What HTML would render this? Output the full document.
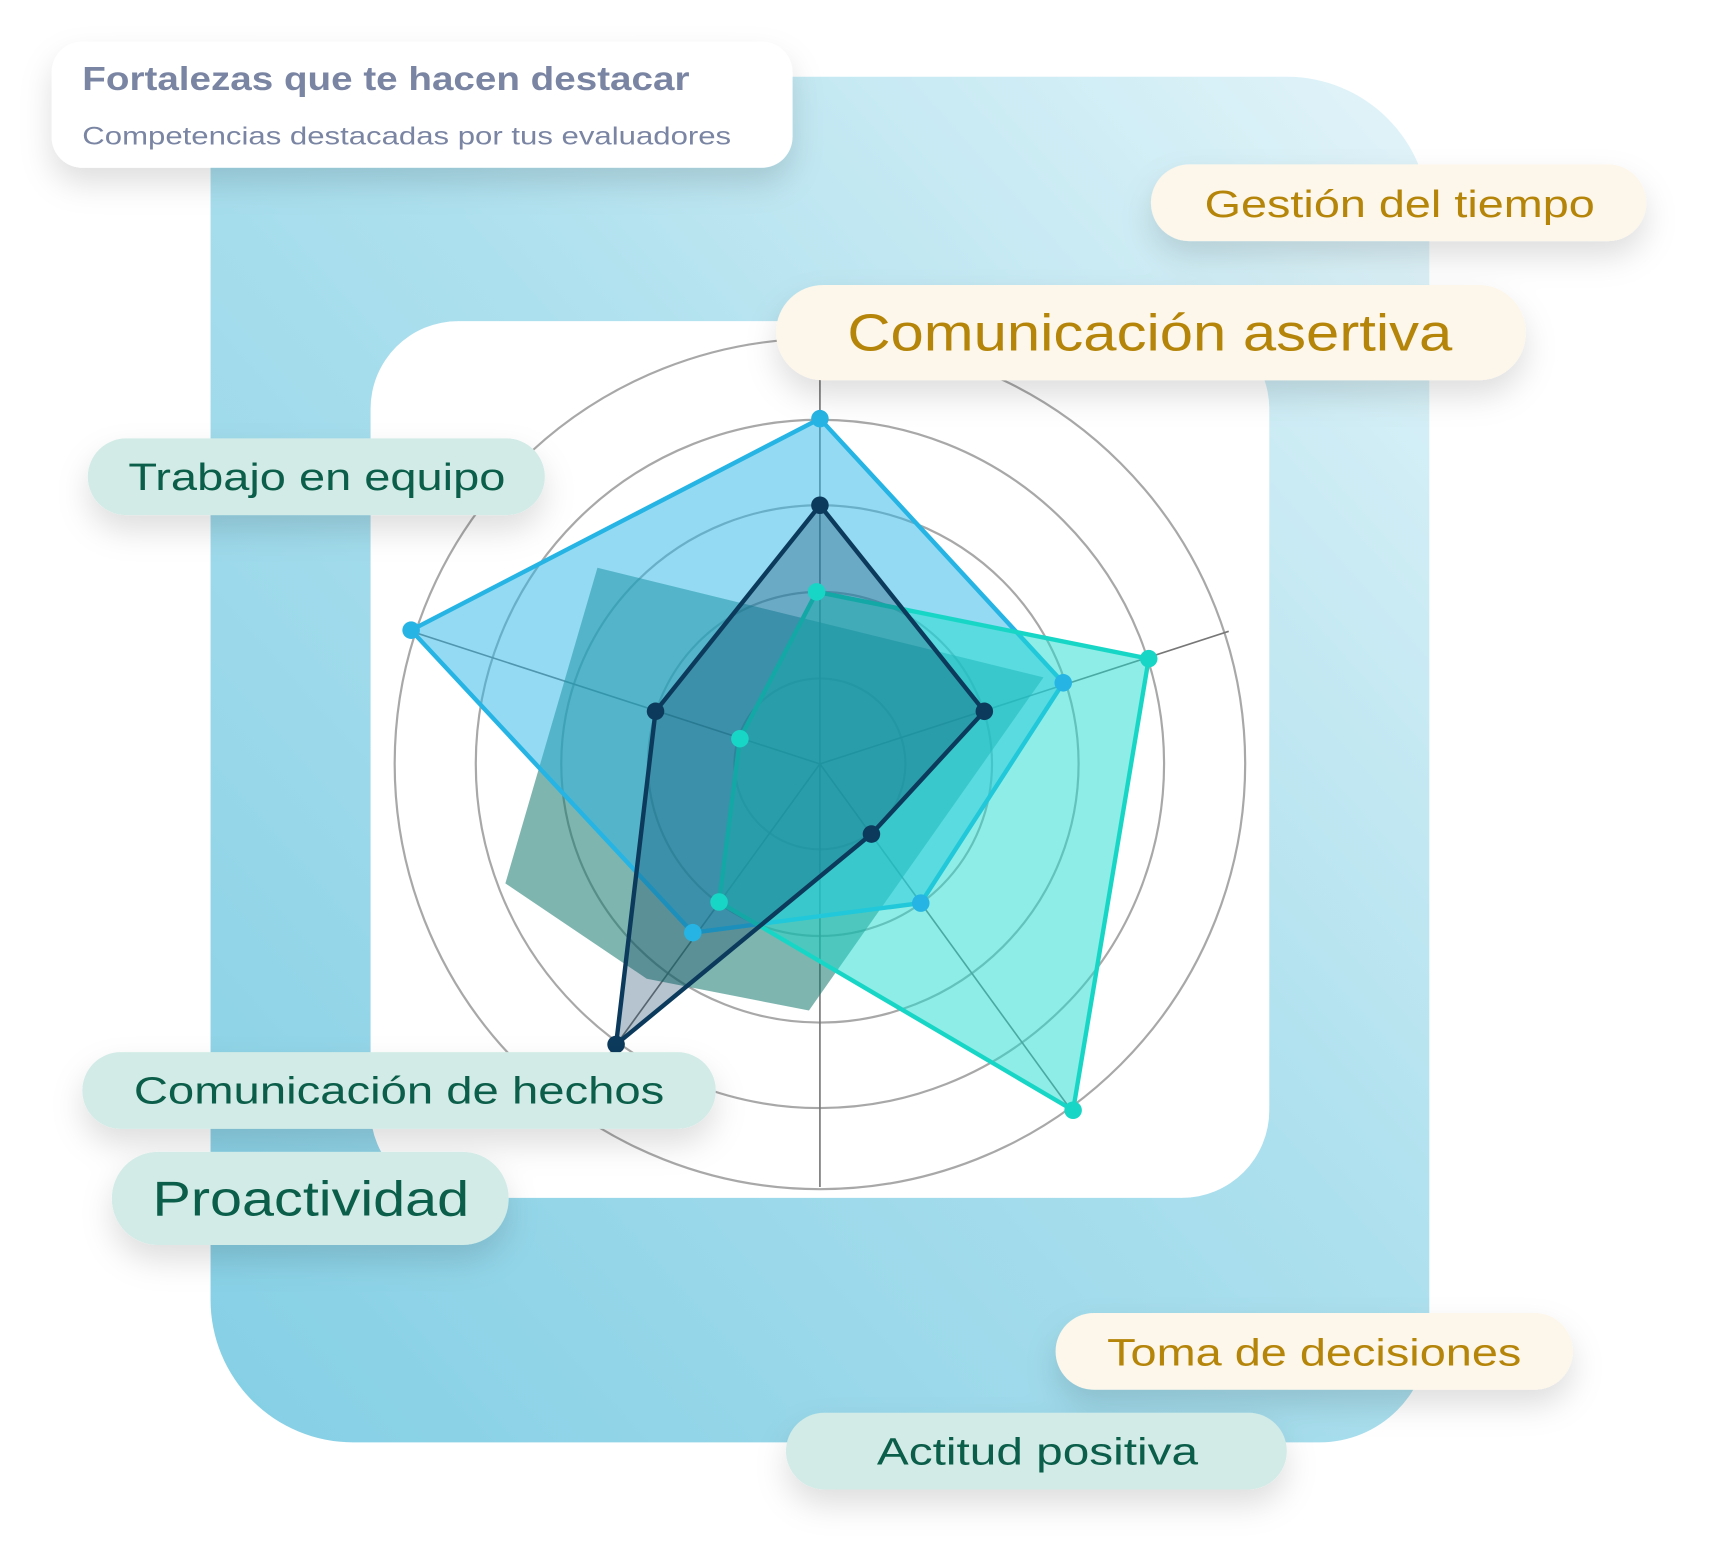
<!DOCTYPE html>
<html><head><meta charset="utf-8"><style>
html,body{margin:0;padding:0;background:#fff;}
svg{display:block}
text{font-family:"Liberation Sans",sans-serif}
</style></head><body>
<svg width="1710" height="1564" viewBox="0 0 1560 1427" xmlns="http://www.w3.org/2000/svg">
<defs>
<linearGradient id="bg" x1="1" y1="0" x2="0" y2="1">
<stop offset="0" stop-color="#e3f4f9"/><stop offset="0.45" stop-color="#ade0ee"/><stop offset="1" stop-color="#84cfe5"/>
</linearGradient>
<filter id="sh" x="-20%" y="-40%" width="140%" height="200%"><feDropShadow dx="0" dy="14" stdDeviation="14" flood-color="#000" flood-opacity="0.13"/></filter>
<clipPath id="card"><rect x="338" y="293" width="820" height="800" rx="80"/></clipPath>
</defs>
<path d="M192 70 H1174 A130 130 0 0 1 1304 200 V1216 A100 100 0 0 1 1204 1316 H322 A130 130 0 0 1 192 1186 Z" fill="url(#bg)"/>
<rect x="338" y="293" width="820" height="800" rx="80" fill="#fff"/>
<g clip-path="url(#card)">
<g fill="none" stroke="#a8a8a8" stroke-width="2">
<circle cx="748" cy="697" r="78"/><circle cx="748" cy="697" r="157"/><circle cx="748" cy="697" r="236"/><circle cx="748" cy="697" r="314"/><circle cx="748" cy="697" r="388"/>
</g>
<g stroke="#777" stroke-width="1.5">
<line x1="748" y1="697" x2="748" y2="305"/><line x1="748" y1="697" x2="1121" y2="576"/><line x1="748" y1="697" x2="978" y2="1014"/><line x1="748" y1="697" x2="518" y2="1014"/><line x1="748" y1="697" x2="375" y2="576"/><line x1="748" y1="697" x2="748" y2="1083"/>
</g>
<polygon points="545,518 952,618 738,922 590,893 461,806" fill="rgba(20,120,110,0.55)"/>
<polygon points="748,382 970,623 840,824 632,851 375,575" fill="rgba(41,182,230,0.5)" stroke="#25b4e4" stroke-width="4" stroke-linejoin="round"/>
<polygon points="745,540 1048,601 979,1013 656,823 675,674" fill="rgba(30,220,205,0.5)" stroke="#18d6c6" stroke-width="4" stroke-linejoin="round"/>
<polygon points="748,461 898,649 795,761 562,953 598,649" fill="rgba(10,58,92,0.3)" stroke="#0b3a5c" stroke-width="4" stroke-linejoin="round"/>
<g fill="#25b4e4"><circle cx="748" cy="382" r="8"/><circle cx="970" cy="623" r="8"/><circle cx="840" cy="824" r="8"/><circle cx="632" cy="851" r="8"/><circle cx="375" cy="575" r="8"/></g>
<g fill="#18d6c6"><circle cx="745" cy="540" r="8"/><circle cx="1048" cy="601" r="8"/><circle cx="979" cy="1013" r="8"/><circle cx="656" cy="823" r="8"/><circle cx="675" cy="674" r="8"/></g>
<g fill="#0b3a5c"><circle cx="748" cy="461" r="8"/><circle cx="898" cy="649" r="8"/><circle cx="795" cy="761" r="8"/><circle cx="562" cy="953" r="8"/><circle cx="598" cy="649" r="8"/></g>
</g>
<g filter="url(#sh)">
<rect x="47" y="38" width="676" height="115" rx="28" fill="#fff"/>
<rect x="1050" y="150" width="452" height="70" rx="35" fill="#fdf6ea"/>
<rect x="708" y="260" width="684" height="87" rx="43" fill="#fdf6ea"/>
<rect x="80" y="400" width="417" height="70" rx="35" fill="#d2ebe6"/>
<rect x="75" y="960" width="578" height="70" rx="35" fill="#d2ebe6"/>
<rect x="102" y="1051" width="362" height="85" rx="42" fill="#d2ebe6"/>
<rect x="963" y="1198" width="472" height="70" rx="35" fill="#fdf6ea"/>
<rect x="717" y="1289" width="457" height="70" rx="35" fill="#d2ebe6"/>
</g>
<text x="75" y="82" font-size="30" font-weight="bold" fill="#7a85a3" textLength="554" lengthAdjust="spacingAndGlyphs">Fortalezas que te hacen destacar</text>
<text x="75" y="132" font-size="23" fill="#7a85a3" textLength="592" lengthAdjust="spacingAndGlyphs">Competencias destacadas por tus evaluadores</text>
<g fill="#b5850a">
<text x="1099" y="198" font-size="35" textLength="356" lengthAdjust="spacingAndGlyphs">Gestión del tiempo</text>
<text x="773" y="320" font-size="47" textLength="552" lengthAdjust="spacingAndGlyphs">Comunicación asertiva</text>
<text x="1010" y="1246" font-size="35" textLength="378" lengthAdjust="spacingAndGlyphs">Toma de decisiones</text>
</g>
<g fill="#0b5e4a">
<text x="117" y="447" font-size="35" textLength="344" lengthAdjust="spacingAndGlyphs">Trabajo en equipo</text>
<text x="122" y="1007" font-size="35" textLength="484" lengthAdjust="spacingAndGlyphs">Comunicación de hechos</text>
<text x="139" y="1109" font-size="45" textLength="289" lengthAdjust="spacingAndGlyphs">Proactividad</text>
<text x="800" y="1336" font-size="35" textLength="293" lengthAdjust="spacingAndGlyphs">Actitud positiva</text>
</g>
</svg>
</body></html>
